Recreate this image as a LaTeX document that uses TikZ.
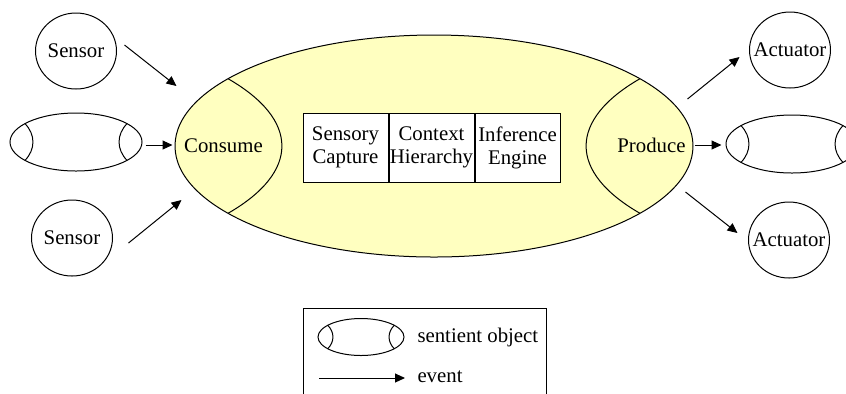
\documentclass[tikz,border=0pt]{standalone}
\usepackage{fontspec}
\setmainfont{Liberation Serif}
\usetikzlibrary{positioning,shapes.geometric,arrows.meta}
\definecolor{agentfill}{RGB}{255,255,192}

\tikzset{
  event/.style={-{Triangle[length=5pt,width=4.5pt]}},
  blob/.style={ellipse, draw, inner sep=0pt},
  device/.style={blob, minimum width=40.5pt, minimum height=38pt},
  part/.style={rectangle, draw, fill=white, minimum width=42.5pt,
    minimum height=34.5pt, inner sep=0pt, align=center},
}

% the two end caps of a sentient object, in units of its radii
\newcommand{\objcaps}[3]{
  \begin{scope}[shift={(#1.center)}, xscale=#2, yscale=#3]
    \draw (-0.773,-0.635) .. controls (-0.612,-0.25) and (-0.612,0.25) .. (-0.773,0.635);
    \draw (0.773,-0.635) .. controls (0.612,-0.25) and (0.612,0.25) .. (0.773,0.635);
  \end{scope}
}

\begin{document}
\begin{tikzpicture}[x=0.5pt, y=-0.5pt, line width=0.5pt,
    every node/.append style={font=\fontsize{10.4}{11.5}\selectfont}]
  \useasboundingbox (0,0) rectangle (846,393);
  \clip (0,0) rectangle (846,393);

  % the big sentient object
  \node[blob, fill=agentfill, minimum width=259pt, minimum height=111pt] (agent) at (434,146) {};
  \begin{scope}[shift={(agent.center)}, xscale=259, yscale=111]
    \draw (-0.795,-0.606) .. controls (-0.518,-0.234) and (-0.518,0.234) .. (-0.795,0.606);
    \draw (0.795,-0.606) .. controls (0.518,-0.234) and (0.518,0.234) .. (0.795,0.606);
  \end{scope}
  \node (consume) at ([shift={(49,0)}]agent.west) {Consume};
  \node (produce) at ([shift={(-42,-1)}]agent.east) {Produce};

  \node[part] (capture) at (345.5,147.5) {Sensory\\Capture};
  \node[part, right=0pt of capture] (hierarchy) {Context\\Hierarchy};
  \node[part, right=0pt of hierarchy] (engine) {Inference\\Engine};

  % sensors, actuators and neighbour objects
  \node[device, label=center:Sensor] (sensorA) at (76,51) {};
  \node[device, label=center:Sensor] (sensorB) at (72,238) {};
  \node[device, label=center:Actuator] (actA) at (790,50) {};
  \node[device, label=center:Actuator] (actB) at (789,240) {};

  \node[blob, minimum width=66pt, minimum height=29pt] (objIn) at (76,142) {};
  \objcaps{objIn}{66}{29}
  \node[blob, minimum width=66pt, minimum height=29pt] (objOut) at (792,144) {};
  \objcaps{objOut}{66}{29}

  % events in
  \draw[event] ([shift={(7.5,-6)}]sensorA.east) -- ([shift={(2,-60)}]agent.west);
  \draw[event] ([shift={(15.5,5)}]sensorB.east) -- ([shift={(7,54)}]agent.west);
  \draw[event] ([shift={(3,3)}]objIn.east) -- ([shift={(-2,-1)}]agent.west);
  % events out
  \draw[event] ([shift={(-6,-47)}]agent.east) -- ([shift={(-9.5,7)}]actA.west);
  \draw[event] ([shift={(1,-1)}]agent.east) -- ([shift={(-4,1)}]objOut.west);
  \draw[event] ([shift={(-8,46)}]agent.east) -- ([shift={(-10.5,-7)}]actB.west);

  % legend
  \node[rectangle, draw, minimum width=121.5pt, minimum height=46pt] (legend) at (424.5,354) {};
  \node[blob, minimum width=43pt, minimum height=18.5pt] (legObj) at (361,337) {};
  \objcaps{legObj}{43}{18.5}
  \node[anchor=west, inner sep=0pt] (legObjText) at (417,337) {sentient object};
  \node[anchor=west, inner sep=0pt] (legEvent) at (417,377) {event};
  \draw[event] ([shift={(-98,1)}]legEvent.west) -- ([shift={(-12,1)}]legEvent.west);
\end{tikzpicture}
\end{document}
